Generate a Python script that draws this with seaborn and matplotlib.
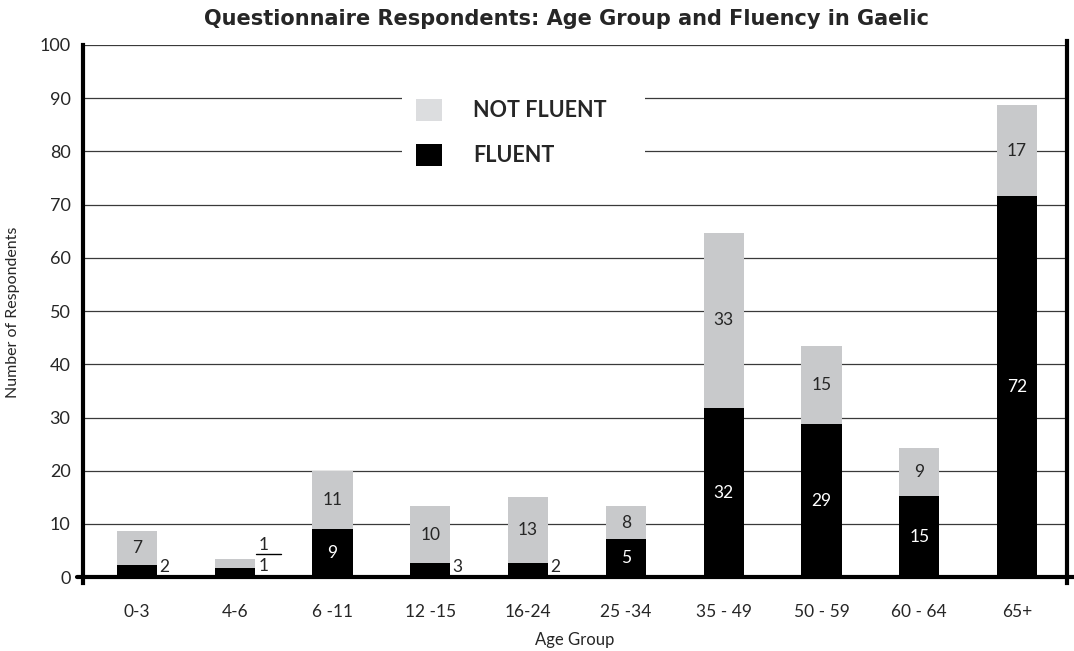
import matplotlib
matplotlib.use("Agg")
import matplotlib.pyplot as plt
from matplotlib.patches import Patch, Rectangle
import seaborn as sns

# data
age_groups = ["0-3", "4-6", "6 -11", "12 -15", "16-24", "25 -34", "35 - 49", "50 - 59", "60 - 64", "65+"]
fluent_height = [2.3, 1.7, 9.0, 2.7, 2.7, 7.1, 31.8, 28.8, 15.2, 71.6]
not_fluent_height = [6.3, 1.7, 11.0, 10.6, 12.3, 6.2, 32.9, 14.6, 9.0, 17.1]
fluent_labels = [2, 1, 9, 3, 2, 5, 32, 29, 15, 72]
not_fluent_labels = [7, 1, 11, 10, 13, 8, 33, 15, 9, 17]
y_ticks = [0, 10, 20, 30, 40, 50, 60, 70, 80, 90, 100]

GRAY = "#c8c9cb"
LEGEND_GRAY = "#dcdddf"
GRID = "#3a3a3a"

sns.set_style("white")
plt.rcParams["font.family"] = ["Lato", "DejaVu Sans"]

totals = [f + n for f, n in zip(fluent_height, not_fluent_height)]

fig = plt.figure(figsize=(10.74, 6.51), dpi=100)
ax = fig.add_axes([83 / 1074, (651 - 583) / 651, (1067 - 83) / 1074, (583 - 45) / 651])

W = 0.41
sns.barplot(x=age_groups, y=totals, color=GRAY, width=W, saturation=1, errorbar=None, ax=ax,
            linewidth=0, zorder=2)
sns.barplot(x=age_groups, y=fluent_height, color="black", width=W, saturation=1, errorbar=None, ax=ax,
            linewidth=0, zorder=3)

ax.set_xlim(-0.552, 9.511)
ax.set_ylim(-1.1, 100)
ax.set_yticks(y_ticks)
ax.set_axisbelow(True)
ax.yaxis.grid(True, color=GRID, linewidth=0.9)
ax.xaxis.grid(False)

for s in ["top", "bottom"]:
    ax.spines[s].set_visible(False)
for s in ["left", "right"]:
    ax.spines[s].set_color("black")
    ax.spines[s].set_linewidth(3)
ax.spines["left"].set_bounds(-1.1, 100)
ax.spines["right"].set_bounds(-1.1, 100.8)

ax.tick_params(axis="y", length=5, width=1, color=GRID, pad=4, labelsize=13)
ax.tick_params(axis="x", length=0, pad=15, labelsize=12.5)
ax.set_xlabel("")
ax.set_ylabel("")

# thick baseline
ax.axhline(0, xmin=-0.006, xmax=1.008, color="black", linewidth=3, clip_on=False, zorder=5)

# value labels
for i in range(len(age_groups)):
    f = fluent_height[i]
    n = not_fluent_height[i]
    edge = i + W / 2
    if f < 4 and n < 4:
        ax.text(edge + 0.09, 6.0, str(not_fluent_labels[i]), ha="center", va="center", fontsize=12.5, zorder=6)
        ax.plot([edge + 0.01, edge + 0.27], [4.3, 4.3], color="black", linewidth=1, zorder=6)
        ax.text(edge + 0.09, 2.1, str(fluent_labels[i]), ha="center", va="center", fontsize=12.5, zorder=6)
        continue
    if f < 4:
        ax.text(edge + 0.02, 2.0, str(fluent_labels[i]), ha="left", va="center", fontsize=12.5, zorder=6)
    else:
        ax.text(i, f / 2, str(fluent_labels[i]), ha="center", va="center", fontsize=12.5,
                color="white", zorder=6)
    ax.text(i, f + n / 2, str(not_fluent_labels[i]), ha="center", va="center", fontsize=12.5, zorder=6)

# legend on a white patch that breaks the gridlines
fig.patches.append(Rectangle((402 / 1074, 1 - 180 / 651), (645 - 402) / 1074, 110 / 651,
                             transform=fig.transFigure, facecolor="white", edgecolor="none", zorder=3))
handles = [Patch(facecolor=LEGEND_GRAY, edgecolor="none", label="NOT FLUENT"),
           Patch(facecolor="black", edgecolor="none", label="FLUENT")]
leg = fig.legend(handles=handles, loc="upper left", bbox_to_anchor=(401 / 1074, 1 - 84 / 651),
                 frameon=False, prop={"weight": "bold", "size": 15.5}, handlelength=1.2,
                 handleheight=1.2, handletextpad=1.45, labelspacing=1.05, borderpad=0.2)
leg.set_zorder(4)

fig.text(567 / 1074, 1 - 19 / 651, "Questionnaire Respondents: Age Group and Fluency in Gaelic",
         ha="center", va="center", fontsize=15, fontweight="bold", family="DejaVu Sans")
fig.text(13 / 1074, 1 - 312 / 651, "Number of Respondents", rotation=90, ha="center", va="center", fontsize=11.5)
fig.text(575 / 1074, 1 - 640 / 651, "Age Group", ha="center", va="center", fontsize=12)

fig.savefig("out.png", dpi=100)
